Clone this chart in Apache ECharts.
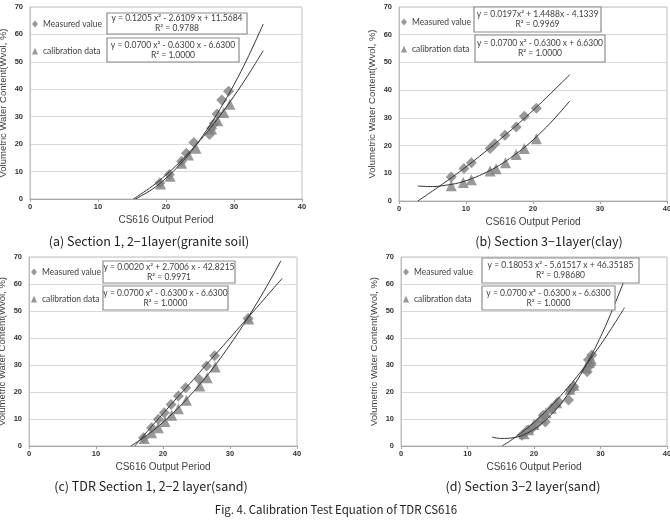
<!DOCTYPE html>
<html>
<head>
<meta charset="utf-8">
<script src="https://cdn.jsdelivr.net/npm/echarts@6/dist/echarts.min.js"></script>
<style>
  html, body { margin: 0; padding: 0; background: #fff; }
  #chart { width: 670px; height: 520px; }
</style>
</head>
<body>
<div id="chart"></div>
<script>
// axis ranges
const xMin = 0, xMax = 40, xStep = 10;
const yMin = 0, yMax = 70, yStep = 10;

const panelCaptions = [
  '(a) Section 1, 2\u22121layer(granite soil)',
  '(b) Section 3\u22121layer(clay)',
  '(c) TDR Section 1, 2\u22122 layer(sand)',
  '(d) Section 3\u22122 layer(sand)'
];
const figCaption = 'Fig. 4. Calibration Test Equation of TDR CS616';

// (a) granite soil
const aMeasured = [[19.1, 5.8], [20.5, 8.9], [22.3, 13.8], [23.0, 16.7], [24.1, 20.6], [26.4, 23.5],
  [26.7, 25.8], [27.1, 27.5], [27.5, 31.0], [28.2, 36.1], [29.2, 39.3]];
const aCalib = [[19.2, 5.5], [20.6, 8.3], [22.3, 13.0], [23.3, 16.0], [24.4, 18.5], [26.7, 25.5],
  [27.6, 28.5], [28.5, 31.5], [29.4, 34.5]];
const aMeasTrend = [[15.5, 0], [18, 3.6], [20, 7.6], [22, 12.5], [24, 18.3], [26, 25.2], [28, 33.0],
  [30, 41.7], [32, 51.4], [34.3, 63.8]];
const aCalibTrend = [[15.2, 0], [18, 4.7], [20, 8.8], [22, 13.4], [24, 18.6], [26, 24.3], [28, 30.6],
  [30, 37.5], [32, 44.9], [34.3, 54.1]];

// (b) clay
const bMeasured = [[7.8, 8.7], [9.7, 11.7], [10.8, 13.8], [13.6, 18.9], [14.3, 20.7], [15.8, 23.7],
  [17.5, 26.7], [18.7, 30.6], [20.5, 33.5]];
const bCalib = [[7.8, 5.5], [9.6, 6.7], [10.8, 7.7], [13.6, 10.8], [14.5, 11.6], [15.9, 13.8],
  [17.5, 16.8], [18.7, 18.9], [20.5, 22.5]];
const bMeasTrend = [[2.8, 0], [5, 3.6], [8, 8.7], [10, 12.3], [12, 16.1], [14, 20.0], [16, 24.1],
  [18, 28.3], [20, 32.7], [22, 37.3], [25.5, 45.6]];
const bCalibTrend = [[2.8, 5.4], [5, 5.2], [7, 5.7], [9, 6.6], [11, 8.2], [13, 10.3], [15, 12.9],
  [17, 16.2], [19, 19.9], [21, 24.3], [23, 29.2], [25.5, 36.1]];

// (c) sand
const cMeasured = [[17.1, 3.1], [18.3, 6.8], [19.3, 9.9], [20.2, 12.3], [21.2, 15.4], [22.3, 18.5],
  [23.4, 21.6], [25.4, 24.6], [26.5, 29.6], [27.7, 33.4], [32.7, 47.2]];
const cCalib = [[17.2, 2.8], [18.3, 4.9], [19.3, 6.8], [20.3, 9.1], [21.3, 11.4], [22.3, 13.8],
  [23.5, 16.9], [25.5, 22.2], [26.6, 25.3], [27.8, 29.3], [32.8, 47.0]];
const cMeasTrend = [[15.8, 0], [18, 6.4], [20, 12.0], [22, 17.6], [24, 23.1], [26, 28.8], [28, 34.4],
  [30, 40.0], [32, 45.7], [34, 51.3], [36, 57.0], [37.8, 62.1]];
const cCalibTrend = [[15.2, 0], [18, 4.7], [20, 8.8], [22, 13.4], [24, 18.6], [26, 24.3], [28, 30.6],
  [30, 37.5], [32, 44.9], [34, 52.9], [36, 61.4], [37.6, 68.6]];

// (d) sand
const dMeasured = [[18.2, 4.0], [19.0, 5.8], [19.7, 6.5], [20.5, 8.3], [21.4, 11.4], [21.7, 8.9],
  [22.7, 13.9], [23.2, 15.1], [23.7, 16.4], [25.2, 17.0], [25.5, 20.7], [26.0, 21.9],
  [28.0, 27.5], [28.2, 31.9], [28.5, 30.0], [28.7, 33.7]];
const dCalib = [[18.5, 4.5], [19.2, 6.0], [20.0, 8.0], [21.0, 10.5], [21.8, 12.3], [22.6, 14.0],
  [23.4, 16.0], [25.4, 21.0], [26.0, 22.5], [27.8, 29.0], [28.3, 31.0], [28.6, 32.2]];
const dMeasTrend = [[13.7, 3.3], [15, 2.8], [17, 3.1], [19, 4.8], [21, 8.0], [23, 12.7], [25, 18.8],
  [27, 26.4], [29, 35.4], [31, 45.8], [33.6, 61.5]];
const dCalibTrend = [[15.2, 0], [17, 2.9], [19, 6.7], [21, 11.0], [23, 15.9], [25, 21.4], [27, 27.4],
  [29, 34.0], [31, 41.1], [33.6, 51.2]];

// trendline equations shown in the boxes
const measEq = [
  ['y = 0.1205 x\u00b2 - 2.6109 x + 11.5684', 'R\u00b2 = 0.9788'],
  ['y = 0.0197x\u00b2 + 1.4488x - 4.1339', 'R\u00b2 = 0.9969'],
  ['y = 0.0020 x\u00b2 + 2.7006 x - 42.8215', 'R\u00b2 = 0.9971'],
  ['y = 0.18053 x\u00b2 - 5.61517 x + 46.35185', 'R\u00b2 = 0.98680']
];
const calibEq = [
  ['y = 0.0700 x\u00b2 - 0.6300 x - 6.6300', 'R\u00b2 = 1.0000'],
  ['y = 0.0700 x\u00b2 - 0.6300 x + 6.6300', 'R\u00b2 = 1.0000'],
  ['y = 0.0700 x\u00b2 - 0.6300 x - 6.6300', 'R\u00b2 = 1.0000'],
  ['y = 0.0700 x\u00b2 - 0.6300 x - 6.6300', 'R\u00b2 = 1.0000']
];

const measuredSets = [aMeasured, bMeasured, cMeasured, dMeasured];
const calibSets = [aCalib, bCalib, cCalib, dCalib];
const measTrends = [aMeasTrend, bMeasTrend, cMeasTrend, dMeasTrend];
const calibTrends = [aCalibTrend, bCalibTrend, cCalibTrend, dCalibTrend];

const grids = [
  {left: 30, top: 7, width: 272, height: 192},
  {left: 399, top: 7, width: 268, height: 194},
  {left: 29, top: 257, width: 268, height: 189},
  {left: 401, top: 257, width: 266, height: 189}
];
// equation boxes [x, y, w, h] for measured and calibration
const eqBoxes = [
  [[107, 13, 140, 21], [107, 38, 132, 24]],
  [[474, 7, 127, 25], [475, 35, 130, 27]],
  [[103, 261, 132, 22], [103, 286, 125, 24]],
  [[482, 258, 157, 25], [482, 286, 133, 24]]
];
const legendPos = [[32, 18], [401, 16], [31, 266], [403, 266]];
const yNameGap = [22, 22, 22, 22];
const captionPos = [[149, 241], [549, 241], [151, 486], [523, 486]];

const MARK = '#7f7f7f';
const LINE = '#333';
const TXT = '#404040';

const chart = echarts.init(document.getElementById('chart'), null, {renderer: 'canvas'});

const xAxes = [], yAxes = [], series = [], legends = [], graphics = [];

grids.forEach((g, i) => {
  xAxes.push({
    gridIndex: i, type: 'value', min: xMin, max: xMax, interval: xStep,
    name: 'CS616 Output Period', nameLocation: 'middle', nameGap: 16,
    nameTextStyle: {fontSize: 10, color: TXT, fontFamily: 'Liberation Sans'},
    axisLine: {lineStyle: {color: '#a6a6a6'}},
    axisTick: {show: true, length: 3, lineStyle: {color: '#a6a6a6'}},
    axisLabel: {fontSize: 7.5, fontWeight: 'bold', color: '#333', margin: 4, fontFamily: 'Liberation Sans'},
    splitLine: {show: false}
  });
  yAxes.push({
    gridIndex: i, type: 'value', min: yMin, max: yMax, interval: yStep,
    name: 'Volumetric Water Content(Wvol, %)', nameLocation: 'middle', nameGap: yNameGap[i],
    nameTextStyle: {fontSize: 9.5, color: TXT, fontFamily: 'Liberation Sans'},
    axisLine: {show: true, lineStyle: {color: '#bfbfbf'}},
    axisTick: {show: false},
    axisLabel: {fontSize: 7.5, fontWeight: 'bold', color: '#333', margin: 7, fontFamily: 'Liberation Sans'},
    splitLine: {lineStyle: {color: '#d9d9d9'}}
  });
  series.push({
    name: 'Measured value', type: 'scatter', xAxisIndex: i, yAxisIndex: i,
    symbol: 'diamond', symbolSize: 11, itemStyle: {color: MARK}, z: 2,
    data: measuredSets[i]
  });
  series.push({
    name: 'calibration data', type: 'scatter', xAxisIndex: i, yAxisIndex: i,
    symbol: 'triangle', symbolSize: 11, itemStyle: {color: MARK}, z: 2,
    data: calibSets[i]
  });
  [measTrends[i], calibTrends[i]].forEach(tr => {
    series.push({
      type: 'line', xAxisIndex: i, yAxisIndex: i, smooth: 0.4, symbol: 'none',
      lineStyle: {color: LINE, width: 1}, z: 3, silent: true,
      data: tr
    });
  });
  legends.push({
    orient: 'vertical', left: legendPos[i][0], top: legendPos[i][1], itemGap: 15,
    itemWidth: 6, itemHeight: 7, padding: 0,
    textStyle: {fontSize: 8.5, color: TXT, fontFamily: 'Lato', lineHeight: 12},
    data: ['Measured value', 'calibration data']
  });
  [measEq[i], calibEq[i]].forEach((eq, k) => {
    const b = eqBoxes[i][k];
    graphics.push({
      type: 'rect', z: 100,
      shape: {x: b[0], y: b[1], width: b[2], height: b[3]},
      style: {fill: '#fff', stroke: '#8c8c8c', lineWidth: 1.2}
    });
    graphics.push({
      type: 'text', z: 101, x: b[0] + b[2] / 2, y: b[1] + b[3] / 2,
      style: {
        text: eq[0] + '\n' + eq[1], align: 'center', verticalAlign: 'middle',
        fill: TXT, font: '8.5px Lato', lineHeight: 10
      }
    });
  });
  graphics.push({
    type: 'text', z: 100, x: captionPos[i][0], y: captionPos[i][1],
    style: {
      text: panelCaptions[i], align: 'center', verticalAlign: 'middle',
      fill: '#222', font: '12.5px "Noto Sans CJK KR"'
    }
  });
});

graphics.push({
  type: 'text', z: 100, x: 336, y: 510,
  style: {
    text: figCaption, align: 'center', verticalAlign: 'middle',
    fill: '#222', font: '11.5px "Noto Sans CJK KR"'
  }
});

chart.setOption({
  backgroundColor: '#fff',
  animation: false,
  grid: grids.map(g => Object.assign({show: true, borderColor: '#bfbfbf', borderWidth: 1,
    outerBoundsMode: 'none', containLabel: false}, g)),
  xAxis: xAxes,
  yAxis: yAxes,
  legend: legends,
  series: series,
  graphic: graphics
});
</script>
</body>
</html>
